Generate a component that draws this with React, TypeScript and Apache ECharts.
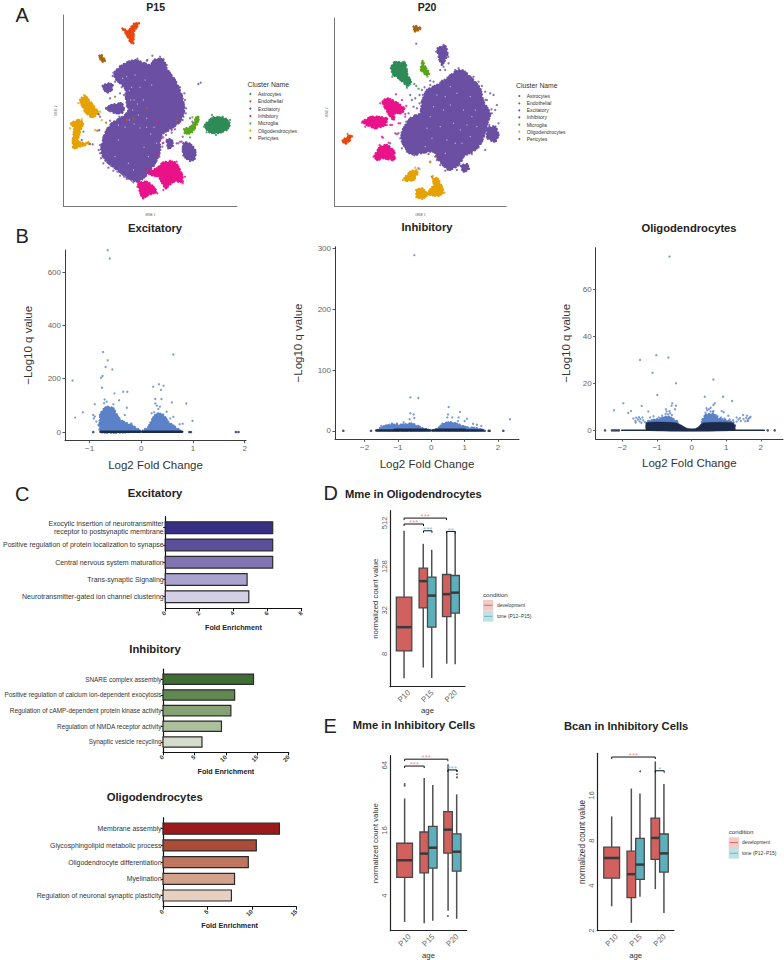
import React, { useEffect, useRef } from "react";
import * as echarts from "echarts";

const FONT = "Liberation Sans";
type Pt = number[];

/* ---------- Panel A: cell map regions (axis units are arbitrary) ---------- */
const clusterNames = ["Astrocytes", "Endothelial", "Excitatory", "Inhibitory", "Microglia", "Oligodendrocytes", "Pericytes"];
const clusterColors = ["#2e8b57", "#e8470f", "#6a4fa3", "#ea1289", "#5aa51a", "#e6a205", "#a6650f"];

const p15Regions: Pt[][][] = [
  [[[615,375],[640,352],[675,355],[690,372],[680,390],[650,400],[625,395]]],
  [[[367,85],[385,92],[400,72],[417,70],[402,95],[400,130],[390,125],[380,105]]],
  [
    [[345,215],[375,190],[405,180],[435,190],[450,195],[465,178],[490,178],[500,205],[525,240],[545,285],[553,330],[540,365],[515,385],[490,400],[480,420],[480,455],[465,490],[440,525],[415,545],[385,535],[345,505],[315,480],[303,450],[315,400],[335,370],[375,345],[385,330],[378,300],[375,265],[345,235]],
    [[308,258],[325,250],[338,255],[335,270],[320,278]],
    [[335,315],[365,310],[372,325],[365,340],[340,338],[318,325]],
    [[550,430],[565,428],[585,448],[585,475],[570,483],[550,465]],
    [[500,420],[515,418],[518,440],[505,445]],
  ],
  [
    [[445,515],[470,505],[490,487],[525,487],[545,520],[548,545],[520,545],[497,565],[475,530],[450,525]],
    [[415,550],[440,545],[455,555],[470,575],[445,585],[428,595],[418,570]],
  ],
  [[[552,388],[575,378],[590,350],[598,352],[585,385],[572,400],[555,400]]],
  [
    [[240,300],[255,288],[275,310],[295,340],[275,352],[255,335]],
    [[213,370],[235,360],[250,368],[240,395],[235,425],[270,430],[240,440],[220,445],[218,420],[222,385]],
  ],
  [[[298,167],[305,165],[315,183],[305,185]]],
];
const p15Strays: Pt[][] = [
  [[636,345],[620,397],[612,380],[648,405],[690,360],[668,350]],
  [[380,360]],
  [[457,167],[340,218],[595,252],[602,248],[330,295],[325,320],[318,325],[360,280],[368,255],[558,325],[550,350],[537,368],[520,378],[505,392],[515,398],[490,412],[488,430],[510,432],[530,430],[540,425],[548,410],[300,460],[303,475],[310,490],[325,503],[340,512],[360,527],[380,537],[400,547],[430,532],[462,497],[478,470],[250,395],[245,420],[293,392],[298,390],[270,432],[278,433],[300,350],[296,343],[577,365],[570,355],[442,180],[520,235],[535,262],[555,300],[352,208],[338,228],[345,245],[365,262],[372,285],[380,318],[358,350],[330,362],[322,385],[310,410],[300,435],[296,450],[308,470],[332,497],[352,515],[372,530],[395,542],[450,515],[470,482],[487,440],[498,405],[525,388],[548,360],[557,340],[553,280],[540,262],[510,222],[500,195],[480,170],[440,182],[412,176],[385,185],[360,198]],
  [[475,367],[485,415],[490,428],[515,390],[535,430],[545,425],[470,460],[415,545],[450,510],[490,570],[548,550],[440,505],[555,530],[530,485],[510,482],[472,580],[412,560],[462,570]],
  [[577,352],[570,412]],
  [[290,392],[285,390],[305,360],[280,350],[300,335],[252,285],[235,310],[210,385],[265,425],[245,358]],
  [[345,290],[318,368],[400,355],[440,325],[530,362]],
];
const p15Gaps: Pt[] = [[380,230],[395,262],[368,235],[402,300],[388,272],[420,262],[430,300],[412,312],[440,382],[388,360],[402,372],[420,384],[452,402],[462,382],[432,442],[405,225],[392,300],[435,240],[455,255],[398,330],[415,345],[440,355],[375,382],[355,420],[345,470],[385,490],[400,510],[445,470],[355,375],[470,430]];

const p20Regions: Pt[][][] = [
  [[[182,175],[192,157],[225,160],[232,195],[242,215],[232,228],[205,205],[190,195]]],
  [[[37,392],[55,378],[65,378],[58,392],[45,402]]],
  [
    [[290,240],[320,225],[350,205],[375,185],[395,180],[425,205],[450,235],[460,275],[480,310],[470,345],[455,395],[435,420],[400,440],[385,465],[355,480],[325,450],[310,425],[270,430],[240,432],[215,395],[215,365],[240,325],[270,310],[275,275]],
    [[470,355],[495,350],[505,375],[495,395],[472,385]],
    [[392,468],[410,462],[416,478],[400,485]],
    [[322,115],[345,108],[352,130],[345,150],[335,165],[328,150]],
  ],
  [
    [[157,275],[170,265],[195,275],[222,295],[215,310],[195,310],[190,330],[180,320],[165,295]],
    [[97,335],[125,320],[170,325],[165,345],[135,355],[110,345]],
    [[133,438],[150,410],[170,405],[192,425],[190,450],[160,445],[140,450]],
  ],
  [[[272,180],[277,153],[285,170],[298,190],[288,195]]],
  [
    [[222,505],[240,485],[258,480],[262,490],[250,510],[228,513]],
    [[258,540],[275,535],[290,548],[310,525],[308,505],[322,505],[340,545],[325,558],[295,555],[275,567],[260,560]],
  ],
  [[[250,50],[258,48],[272,55],[262,62],[255,66]]],
];
const p20Strays: Pt[][] = [
  [[252,222],[258,228],[265,236],[186,200],[230,233],[222,155],[240,222]],
  [[52,372]],
  [[258,101],[480,250],[490,255],[470,270],[500,285],[485,310],[495,300],[475,330],[505,340],[440,410],[465,420],[300,212],[310,215],[330,180],[345,180],[355,160],[375,180],[240,255],[245,270],[255,265],[268,255],[275,240],[250,290],[260,295],[235,310],[225,320],[210,340],[205,370],[215,415],[230,425],[260,435],[320,450],[330,465],[300,455],[380,480],[315,440],[445,215],[465,245],[360,195],[410,190],[195,370],[180,400],[178,410],[265,475],[305,500],[283,232],[300,225],[335,212],[365,195],[385,175],[405,186],[430,200],[455,228],[466,270],[484,298],[477,345],[462,380],[445,412],[425,432],[395,452],[375,472],[345,482],[322,442],[295,432],[252,436],[225,412],[210,385],[228,335],[255,315],[268,280],[278,255],[340,105],[318,125],[354,140],[340,170]],
  [[197,253],[215,270],[228,288],[225,312],[205,340],[158,383],[155,380],[180,345],[185,345],[200,372],[170,345],[150,280],[95,338],[105,350],[130,440],[195,445],[148,405],[175,398]],
  [[292,200],[288,190]],
  [[300,458],[255,473],[268,478],[308,498],[275,535],[218,510],[258,562],[343,548]],
  [[318,438]],
];
const p20Gaps: Pt[] = [[345,260],[360,285],[380,250],[400,300],[425,320],[370,340],[340,300],[310,290],[300,320],[330,350],[390,360],[410,345],[435,300],[420,260],[375,400],[350,390],[395,400],[420,380],[345,430],[290,355],[305,385],[285,410],[360,230],[320,255],[440,350]];

/* ---------- Panel B: volcano plots ---------- */
const volcanoExcitatoryMass: Pt[][] = [
  [[-0.79,0],[-0.80,51],[-0.77,76],[-0.67,95],[-0.54,89],[-0.45,57],[-0.35,39],[-0.19,26],[-0.03,4]],
  [[0.03,4],[0.14,20],[0.20,45],[0.30,70],[0.43,64],[0.52,39],[0.65,20],[0.75,4]],
];
const volcanoExcitatorySig: Pt[] = [[-1.33,193],[-1.28,54],[-1.13,74],[-0.93,64],[-0.90,104],[-0.74,300],[-0.65,269],[-0.69,244],[-0.56,235],[-0.75,210],[-0.78,204],[-0.76,166],[-0.52,145],[-0.35,151],[-0.27,151],[-0.43,119],[-0.71,122],[-0.67,114],[-0.54,104],[-0.72,108],[-0.61,91],[-0.92,51],[-0.87,39],[-0.83,26],[-0.90,58],[-0.80,64],[-0.28,91],[-0.32,64],[-0.19,32],[-0.61,651],[-0.65,682],[0.62,291],[0.23,170],[0.34,179],[0.43,174],[0.38,158],[0.27,124],[0.39,124],[0.30,99],[0.36,95],[0.33,86],[0.27,107],[0.59,111],[0.87,107],[0.99,42],[0.80,31],[0.74,29],[0.49,76],[0.62,57],[0.56,51],[0.20,70],[0.25,74]];
const volcanoExcitatoryNs: Pt[][] = [[[-0.78,1],[-0.02,1]],[[0.02,1],[0.79,1]]];
const volcanoExcitatoryNsPoints: Pt[] = [[-0.93,0],[0.93,0],[0.96,0],[1.83,0],[1.88,0]];

const volcanoInhibitoryMass: Pt[][] = [
  [[-1.6,1],[-1.5,6],[-1.2,10],[-0.9,10],[-0.6,12],[-0.4,8],[-0.25,4],[-0.05,1]],
  [[0.05,1],[0.2,4],[0.35,12],[0.6,14],[0.85,10],[1.05,6],[1.4,4],[1.55,1]],
];
const volcanoInhibitorySig: Pt[] = [[-0.51,289],[-0.63,55],[-0.39,54],[0.52,39],[0.86,31],[2.36,19],[-0.63,29],[-0.53,27],[-0.65,19],[-0.51,21],[0.50,27],[0.63,22],[0.82,22],[0.48,22],[1.07,20],[1.0,16],[1.37,10],[1.5,8],[1.25,11.5],[0.8,16],[-0.83,14],[-1.03,12],[-1.18,12],[-1.5,8],[-1.35,9],[-1.25,10]];
const volcanoInhibitoryNs: Pt[][] = [[[-1.65,0.5],[-0.03,0.5]],[[0.03,0.5],[1.55,0.5]],[[-1.1,2],[-0.15,2]],[[0.15,2],[1.0,2]]];
const volcanoInhibitoryNsPoints: Pt[] = [[-2.64,0],[-1.81,0],[2.16,0],[1.72,0],[1.75,0],[1.6,0]];

const volcanoOligoMass: Pt[][] = [
  [[-1.3,3],[-1.25,4],[-0.9,5],[-0.7,6],[-0.55,5],[-0.4,3.5]],
  [[0.3,3.5],[0.4,6.5],[0.6,7],[0.8,5],[1.0,4.3],[1.25,3]],
];
const volcanoOligoSig: Pt[] = [[-0.64,74],[-1.49,30],[-1.02,32],[-0.67,31],[-1.13,24.5],[-0.45,20],[-0.99,15],[-1.97,11.5],[-2.24,8.5],[-1.83,7.4],[-1.75,8.2],[-1.44,10.4],[-0.56,11.5],[-0.45,10.5],[-0.58,10.5],[-0.74,9],[-0.48,9],[-0.64,8.2],[-0.72,8],[-1.25,8],[0.63,21.6],[0.38,14.3],[0.91,14.3],[1.17,12.5],[0.67,11.5],[0.63,10.8],[0.43,9.4],[0.55,9.6],[0.63,8.2],[0.87,8.2],[0.93,7.7],[1.06,6.2],[1.49,6.5],[1.6,6.2],[1.7,5.8],[1.3,5.5],[1.63,4],[1.3,3.7],[0.53,6.5],
  [-1.2,5.5],[-1.1,6],[-0.95,5.5],[-0.85,6.2],[-0.8,5.3],[-0.75,7],[-0.68,6.8],[-0.62,7.3],[-0.57,6.5],[0.4,7.5],[0.45,8.5],[0.5,9],[0.55,8],[0.62,7.8],[0.7,6.5],[0.75,6],[0.85,5.5],[0.95,5],[1.1,4.6],[1.2,4.3],
  [-1.68,5],[-1.62,4],[-1.6,5.4],[-1.55,4.6],[-1.52,5.6],[-1.5,3.8],[-1.48,4.8],[-1.42,5.5],[-1.4,4.3],[-1.62,3.3],[-1.35,3.5],[-1.45,3.2],
  [1.35,4.6],[1.4,5.2],[1.42,4],[1.5,4.8],[1.55,3.9],[1.58,5.2],[1.65,5],[1.62,4.3],[1.68,5.3]];
const volcanoOligoDark: Pt[][] = [
  [[-1.3,0],[-1.3,3.2],[-0.6,3.4],[-0.4,3],[-0.15,1],[-0.05,0.7],[0.1,0.7],[0.2,1.5],[0.3,3],[0.6,3.4],[1.2,3.1],[1.25,0]],
];
const volcanoOligoNs: Pt[][] = [[[-2.02,0],[2.1,0]]];
const volcanoOligoNsPoints: Pt[] = [[-2.5,0],[-2.3,0],[-2.25,0],[-2.2,0],[-2.15,0],[-2.1,0],[2.2,0],[2.4,0],[1.25,2]];

/* ---------- Panel C: enrichment bars ---------- */
const excitatoryTerms = ["Exocytic insertion of neurotransmitter\nreceptor to postsynaptic membrane", "Positive regulation of protein localization to synapse", "Central nervous system maturation", "Trans-synaptic Signaling", "Neurotransmitter-gated ion channel clustering"];
const excitatoryFold = [6.3, 6.3, 6.3, 4.8, 4.9];
const excitatoryColors = ["#372f86", "#5b4f9c", "#8074b3", "#aaa3d0", "#d3d0e6"];
const inhibitoryTerms = ["SNARE complex assembly", "Positive regulation of calcium ion-dependent exocytosis", "Regulation of cAMP-dependent protein kinase activity", "Regulation of NMDA receptor activity", "Synaptic vesicle recycling"];
const inhibitoryFold = [14.4, 11.4, 10.8, 9.3, 6.2];
const inhibitoryColors = ["#3f6e34", "#628852", "#86a274", "#adc09d", "#d6dccc"];
const oligoTerms = ["Membrane assembly", "Glycosphingolipid metabolic process", "Oligodendrocyte differentiation", "Myelination", "Regulation of neuronal synaptic plasticity"];
const oligoFold = [13.1, 10.5, 9.6, 8.05, 7.7];
const oligoColors = ["#9a1b1b", "#ab4c38", "#bf7660", "#d3a28c", "#e7d0c2"];

/* ---------- Panels D and E: box plots. Rows: age index, low, q1, median, q3, high ---------- */
const ages = ["P10", "P15", "P20"];
const mmeOligoDev = [[1,3.69,8.8,18.7,48.5,399],[2,5.2,34.5,80.7,122,264],[3,5.88,26.2,53.4,99.7,391]];
const mmeOligoTone = [[2,3.73,18.7,51,91.8,218],[3,5.77,29.2,56,96.5,391]];
const mmeInhDev = [[1,2.29,5.9,8.5,12.2,31.6],[2,2.23,6.5,9.8,15.5,48.9],[3,2.9,9.9,16.3,23.9,65.6]];
const mmeInhTone = [[2,2.35,7.2,11.1,17.5,42],[3,2.45,6.74,10.2,14.9,34.5]];
const mmeInhOutliers = [[1,41.5],[1,43],[3.19,57],[3.19,53],[3.19,49.5],[2.81,2.6]];
const bcanDev = [[1,2.91,4.49,6.12,7.23,11.6],[2,2.26,3.33,4.77,6.8,17.8],[3,3.79,6.0,8.33,11.3,27]];
const bcanTone = [[2,3.37,4.4,5.53,8.28,16.5],[3,2.63,4.93,6.57,8.85,19.1]];
const bcanOutliers = [[2.19,23.2]];
/* Rows: from, to, height, tone flag; stars are kept alongside */
const mmeOligoBrackets = [[1,2.81,597,0],[1,1.83,495,0],[1.83,2.19,399,1],[2.81,3.18,391,1]];
const mmeOligoStars = ["***","***","***","**"];
const mmeInhBrackets = [[1,2.81,72.9,0],[1,1.82,63,0],[2.81,3.19,58,1]];
const mmeInhStars = ["***","***","***"];
const bcanBrackets = [[1,2.82,28.9,0],[2.82,3.19,23.4,1]];
const bcanStars = ["***","*"];

const DEV = "#d0615f";
const TONE = "#5db0bb";
const DEV_STAR = "#ea9a96";
const TONE_STAR = "#7cc6cf";
const VOLC_BLUE = "#5b82c8";
const VOLC_DARK = "#1d2b4a";

function buildOption() {
  const grid: any[] = [], xAxis: any[] = [], yAxis: any[] = [], series: any[] = [], graphic: any[] = [];
  const addGrid = (g: any, x: any, y: any) => {
    grid.push({ ...g, containLabel: false });
    xAxis.push({ gridIndex: grid.length - 1, ...x });
    yAxis.push({ gridIndex: grid.length - 1, ...y });
    return grid.length - 1;
  };
  const text = (t: string, x: number, y: number, o: any = {}) =>
    graphic.push({
      type: "text", x, y, silent: true,
      style: { text: t, fontFamily: FONT, fontSize: o.size ?? 8, fontWeight: o.weight ?? "normal", fill: o.fill ?? "#222", align: o.align ?? "left", verticalAlign: "middle" },
    });

  const polygonSeries = (i: number, polys: Pt[][], color: string, dotted = true) => ({
    type: "custom", xAxisIndex: i, yAxisIndex: i, silent: true, clip: false,
    data: polys.map((p) => p[0]),
    renderItem: (params: any, api: any) => ({
      type: "polygon",
      shape: { points: polys[params.dataIndex].map((p) => api.coord(p)), smooth: 0.2 },
      style: dotted
        ? { fill: color, stroke: color, lineWidth: 2.3, lineDash: [0.3, 2.4, 0.3, 3.6, 0.3, 1.9], lineCap: "round" }
        : { fill: color, stroke: color, lineWidth: 0.5 },
    }),
  });
  const dots = (i: number, data: Pt[], color: string, size = 2.3) => ({
    type: "scatter", xAxisIndex: i, yAxisIndex: i, silent: true, symbol: "circle", symbolSize: size,
    data, itemStyle: { color }, clip: false,
  });
  const lineSeries = (i: number, seg: Pt[], color: string, width: number) => ({
    type: "line", xAxisIndex: i, yAxisIndex: i, silent: true, showSymbol: false, data: seg,
    lineStyle: { color, width, cap: "round" }, clip: false,
  });

  /* Panel A */
  const tsne = (bx: number[], by: number[], regions: Pt[][][], strays: Pt[][], gaps: Pt[], gr: any, yGap: number) => {
    const line = { show: true, onZero: false, lineStyle: { color: "#777", width: 1 } };
    const name = { fontSize: 3.2, color: "#555", fontFamily: FONT };
    const i = addGrid(gr,
      { type: "value", min: bx[0], max: bx[1], axisLine: line, axisTick: { show: false }, axisLabel: { show: false }, splitLine: { show: false }, name: "tSNE 1", nameLocation: "middle", nameGap: 7, nameTextStyle: name },
      { type: "value", inverse: true, min: by[0], max: by[1], axisLine: line, axisTick: { show: false }, axisLabel: { show: false }, splitLine: { show: false }, name: "tSNE 2", nameLocation: "middle", nameGap: yGap, nameTextStyle: name });
    regions.forEach((polys, k) => series.push(polygonSeries(i, polys, clusterColors[k])));
    series.push(dots(i, gaps, "#d9d2e8", 1.2));
    strays.forEach((pts, k) => series.push(dots(i, pts, clusterColors[k])));
  };
  tsne([190, 711], [45, 619], p15Regions, p15Strays, p15Gaps, { left: 63.4, top: 15, width: 173.6, height: 191.3 }, 6);
  tsne([13, 528], [25, 589], p20Regions, p20Strays, p20Gaps, { left: 334.6, top: 18.3, width: 171.6, height: 188 }, 6);

  const clusterLegend = (tx: number, ty: number, dotX: number, labelX: number, rows: number[]) => {
    text("Cluster Name", tx, ty, { size: 6.8, fill: "#333" });
    clusterNames.forEach((n, k) => {
      graphic.push({ type: "circle", silent: true, shape: { cx: dotX, cy: rows[k], r: 1 }, style: { fill: clusterColors[k] } });
      text(n, labelX, rows[k], { size: 5, fill: "#333" });
    });
  };
  clusterLegend(247.5, 84, 250.3, 258, [94, 101.3, 108.7, 116, 123.3, 130.7, 138]);
  clusterLegend(516, 85.3, 519.3, 526.7, [96, 103.3, 110.3, 117.3, 124.7, 131.7, 139]);
  text("P15", 155.7, 7.3, { size: 10.5, weight: "bold", align: "center" });
  text("P20", 427, 7, { size: 10.5, weight: "bold", align: "center" });

  /* Panel B */
  const volcano = (gr: any, xr: number[], yr: number[], xt: number[], yt: number[], xGap: number, yGap: number,
    mass: Pt[][], dark: Pt[][], ns: Pt[][], nsW: number, nsPts: Pt[], sig: Pt[]) => {
    const line = { show: true, onZero: false, lineStyle: { color: "#3a3a3a", width: 1 } };
    const label = { fontSize: 8, color: "#666", fontFamily: FONT, formatter: (v: number) => String(v).replace("-", "\u2212") };
    const name = { fontSize: 11.5, color: "#333", fontFamily: FONT };
    const i = addGrid(gr,
      { type: "value", min: xr[0], max: xr[1], axisLine: line, axisTick: { show: true, length: 2.5, customValues: xt, lineStyle: { color: "#555" } }, axisLabel: { ...label, margin: 4, customValues: xt }, splitLine: { show: false }, name: "Log2 Fold Change", nameLocation: "middle", nameGap: xGap, nameTextStyle: name },
      { type: "value", min: yr[0], max: yr[1], axisLine: line, axisTick: { show: true, length: 2.5, customValues: yt, lineStyle: { color: "#555" } }, axisLabel: { ...label, margin: 4, customValues: yt }, splitLine: { show: false }, name: "\u2212Log10 q value", nameLocation: "middle", nameGap: yGap, nameTextStyle: name });
    series.push(polygonSeries(i, mass, VOLC_BLUE));
    series.push(dots(i, sig, VOLC_BLUE));
    if (dark.length) series.push(polygonSeries(i, dark, VOLC_DARK, false));
    ns.forEach((seg) => series.push(lineSeries(i, seg, VOLC_DARK, nsW)));
    series.push(dots(i, nsPts, VOLC_DARK, 2.6));
  };
  volcano({ left: 65, top: 250, width: 181, height: 190.7 }, [-1.476, 2.025], [-32.6, 683], [-1, 0, 1, 2], [0, 200, 400, 600], 18, 31, volcanoExcitatoryMass, [], volcanoExcitatoryNs, 2.6, volcanoExcitatoryNsPoints, volcanoExcitatorySig);
  volcano({ left: 335, top: 246.7, width: 184, height: 192.6 }, [-2.89, 2.63], [-14, 303], [-2, -1, 0, 1, 2], [0, 100, 200, 300], 18.5, 31, volcanoInhibitoryMass, [], volcanoInhibitoryNs, 2.4, volcanoInhibitoryNsPoints, volcanoInhibitorySig);
  volcano({ left: 595.7, top: 247.7, width: 187.3, height: 191.3 }, [-2.77, 2.64], [-3.7, 77.8], [-2, -1, 0, 1, 2], [0, 20, 40, 60], 18, 24, volcanoOligoMass, volcanoOligoDark, volcanoOligoNs, 1.6, volcanoOligoNsPoints, volcanoOligoSig);
  text("Excitatory", 155, 228, { size: 11.2, weight: "bold", align: "center" });
  text("Inhibitory", 427, 227, { size: 11.2, weight: "bold", align: "center" });
  text("Oligodendrocytes", 689, 228, { size: 11.2, weight: "bold", align: "center" });

  /* Panel C */
  const bars = (gr: any, maxV: number, step: number, ranks: number[], terms: string[], fold: number[], colors: string[], labelSize: number, barFrac: number) => {
    const line = { show: true, onZero: false, lineStyle: { color: "#111", width: 1.2 } };
    const i = addGrid(gr,
      { type: "value", min: 0, max: maxV, interval: step, axisLine: line, axisTick: { show: true, length: 3, lineStyle: { color: "#111", width: 1 } }, axisLabel: { fontSize: 6, fontWeight: "bold", color: "#333", rotate: 45, margin: 4, fontFamily: FONT }, splitLine: { show: false }, name: "Fold Enrichment", nameLocation: "middle", nameGap: 15.5, nameTextStyle: { fontSize: 7.2, fontWeight: "bold", color: "#222", fontFamily: FONT } },
      { type: "value", inverse: true, min: ranks[0], max: ranks[1], axisLine: line, axisTick: { show: true, length: 2, customValues: [1, 2, 3, 4, 5], lineStyle: { color: "#111", width: 1 } }, axisLabel: { fontSize: labelSize, color: "#333", margin: 1.5, fontFamily: FONT, customValues: [1, 2, 3, 4, 5], lineHeight: labelSize * 1.2, formatter: (v: number) => terms[v - 1] }, splitLine: { show: false } });
    series.push({
      type: "custom", xAxisIndex: i, yAxisIndex: i, silent: true, clip: false,
      data: fold.map((f, k) => [f, k + 1]),
      encode: { x: 0, y: 1 },
      renderItem: (params: any, api: any) => {
        const a = api.coord([0, api.value(1)]);
        const b = api.coord([api.value(0), api.value(1)]);
        const h = api.size([0, 1])[1] * barFrac;
        return { type: "rect", shape: { x: a[0], y: a[1] - h / 2, width: b[0] - a[0], height: h }, style: { fill: colors[params.dataIndex], stroke: "#2b2b2b", lineWidth: 1.2 } };
      },
    });
  };
  bars({ left: 163.7, top: 516.7, width: 138, height: 91.6 }, 8, 2, [0.362, 5.67], excitatoryTerms, excitatoryFold, excitatoryColors, 7, 0.68);
  bars({ left: 163, top: 669, width: 125.7, height: 83.3 }, 20, 5, [0.343, 5.66], inhibitoryTerms, inhibitoryFold, inhibitoryColors, 6.4, 0.66);
  bars({ left: 163, top: 817.7, width: 133.3, height: 89 }, 15, 5, [0.34, 5.67], oligoTerms, oligoFold, oligoColors, 6.9, 0.66);
  text("Excitatory", 155, 492.7, { size: 11.3, weight: "bold", align: "center" });
  text("Inhibitory", 155, 649, { size: 11.3, weight: "bold", align: "center" });
  text("Oligodendrocytes", 154.7, 797, { size: 11.3, weight: "bold", align: "center" });

  /* Panels D and E */
  const boxSeries = (i: number, rows: number[][], fill: string, dodge: number) => ({
    type: "custom", xAxisIndex: i, yAxisIndex: i, silent: true, clip: false,
    data: rows, encode: { x: 0, y: [1, 2, 3, 4, 5] },
    renderItem: (params: any, api: any) => {
      const age = api.value(0);
      const solo = age === 1;
      const xc = age + (solo ? 0 : dodge);
      const hw = (solo ? 0.33 : 0.18) * api.size([1, 1])[0];
      const p = (v: number) => api.coord([xc, v]);
      const [lo, q1, med, q3, hi] = [1, 2, 3, 4, 5].map((d) => p(api.value(d)));
      const c = lo[0];
      const whisk = { stroke: "#505050", lineWidth: 1.5 };
      return {
        type: "group",
        children: [
          { type: "line", shape: { x1: c, y1: lo[1], x2: c, y2: q1[1] }, style: whisk },
          { type: "line", shape: { x1: c, y1: q3[1], x2: c, y2: hi[1] }, style: whisk },
          { type: "rect", shape: { x: c - hw, y: q3[1], width: 2 * hw, height: q1[1] - q3[1] }, style: { fill, stroke: "#484848", lineWidth: 1.3 } },
          { type: "line", shape: { x1: c - hw, y1: med[1], x2: c + hw, y2: med[1] }, style: { stroke: "#3a3a3a", lineWidth: 2.5 } },
        ],
      };
    },
  });
  const bracketSeries = (i: number, rows: number[][], stars: string[]) => ({
    type: "custom", xAxisIndex: i, yAxisIndex: i, silent: true, clip: false,
    data: rows, encode: { x: [0, 1], y: 2 },
    renderItem: (params: any, api: any) => {
      const a = api.coord([api.value(0), api.value(2)]);
      const b = api.coord([api.value(1), api.value(2)]);
      const tone = api.value(3) === 1;
      return {
        type: "group",
        children: [
          { type: "polyline", shape: { points: [[a[0], a[1] + 2], a, b, [b[0], b[1] + 2]] }, style: { stroke: "#111", fill: "none", lineWidth: 1 } },
          { type: "text", style: { text: stars[params.dataIndex], x: (a[0] + b[0]) / 2, y: a[1] - 1.2, fill: tone ? TONE_STAR : DEV_STAR, fontSize: 8, fontFamily: FONT, align: "center", verticalAlign: "middle" } },
        ],
      };
    },
  });
  const boxPlot = (gr: any, yr: number[], ticks: number[], dev: number[][], tone: number[][], outliers: number[][], br: number[][], stars: string[], nameSize: number) => {
    const line = { show: true, onZero: false, lineStyle: { color: "#222", width: 1.2 } };
    const i = addGrid(gr,
      { type: "value", min: 0.4, max: 3.6, axisLine: line, axisTick: { show: false }, axisLabel: { fontSize: 7.8, color: "#666", rotate: 45, margin: 9.5, align: "center", verticalAlign: "middle", fontFamily: FONT, customValues: [1, 2, 3], formatter: (v: number) => ages[v - 1] }, splitLine: { show: false }, name: "age", nameLocation: "middle", nameGap: 20, nameTextStyle: { fontSize: 7.8, color: "#333", fontFamily: FONT } },
      { type: "log", logBase: 2, min: yr[0], max: yr[1], axisLine: line, axisTick: { show: false }, minorTick: { show: false }, axisLabel: { fontSize: 7.6, color: "#666", rotate: 90, margin: 2, fontFamily: FONT, customValues: ticks }, splitLine: { show: false }, minorSplitLine: { show: false }, name: "normalized count value", nameLocation: "middle", nameGap: 11, nameTextStyle: { fontSize: nameSize, color: "#333", fontFamily: FONT } });
    series.push(boxSeries(i, dev, DEV, -0.18));
    series.push(boxSeries(i, tone, TONE, 0.18));
    if (outliers.length) series.push(dots(i, outliers, "#222", 1.8));
    series.push(bracketSeries(i, br, stars));
  };
  boxPlot({ left: 390, top: 510.7, width: 75, height: 176 }, [2.83, 755], [8, 32, 128, 512], mmeOligoDev, mmeOligoTone, [], mmeOligoBrackets, mmeOligoStars, 7.8);
  boxPlot({ left: 390.3, top: 755.7, width: 76.4, height: 178.3 }, [1.9, 78.5], [4, 16, 64], mmeInhDev, mmeInhTone, mmeInhOutliers, mmeInhBrackets, mmeInhStars, 7.8);
  boxPlot({ left: 597.3, top: 753.3, width: 76.7, height: 179.7 }, [2, 30.6], [2, 4, 8, 16], bcanDev, bcanTone, bcanOutliers, bcanBrackets, bcanStars, 8.2);

  const condLegend = (x: number, ty: number, k1: number, k2: number, tx: number, r1: number, r2: number) => {
    text("condition", x, ty, { size: 6.2, fill: "#333" });
    const key = (y: number, bg: string, c: string) => {
      graphic.push({ type: "rect", silent: true, shape: { x, y, width: 10.3, height: 10.7 }, style: { fill: bg } });
      graphic.push({ type: "line", silent: true, shape: { x1: x + 1, y1: y + 5.3, x2: x + 9.3, y2: y + 5.3 }, style: { stroke: c, lineWidth: 0.9 } });
    };
    key(k1, "#f2cbc6", DEV);
    key(k2, "#c2e1e5", TONE);
    text("development", tx, r1, { size: 4.9, fill: "#333" });
    text("tone (P12\u2212P15)", tx, r2, { size: 4.9, fill: "#333" });
  };
  condLegend(483, 594, 600, 611, 497, 605.3, 616);
  condLegend(728.7, 831.3, 837.3, 848, 742, 842.7, 853);

  text("Mme in Oligodendrocytes", 345, 494, { size: 11.2, weight: "bold" });
  text("Mme in Inhibitory Cells", 352.7, 725, { size: 11.2, weight: "bold" });
  text("Bcan in Inhibitory Cells", 564, 725.7, { size: 11.2, weight: "bold" });

  /* Panel letters */
  text("A", 15.5, 14.5, { size: 20, fill: "#222" });
  text("B", 15.5, 235.5, { size: 20, fill: "#222" });
  text("C", 15, 494, { size: 20, fill: "#222" });
  text("D", 323.5, 493, { size: 20, fill: "#222" });
  text("E", 323.5, 726, { size: 20, fill: "#222" });

  return { animation: false, backgroundColor: "#ffffff", textStyle: { fontFamily: FONT }, tooltip: { show: false }, grid, xAxis, yAxis, series, graphic };
}

export default function App() {
  const ref = useRef<HTMLDivElement>(null);
  useEffect(() => {
    const chart = echarts.init(ref.current!, undefined, { renderer: "svg" });
    chart.setOption(buildOption() as any);
    return () => chart.dispose();
  }, []);
  return <div ref={ref} style={{ position: "absolute", left: 0, top: 0, width: 784, height: 960 }} />;
}
